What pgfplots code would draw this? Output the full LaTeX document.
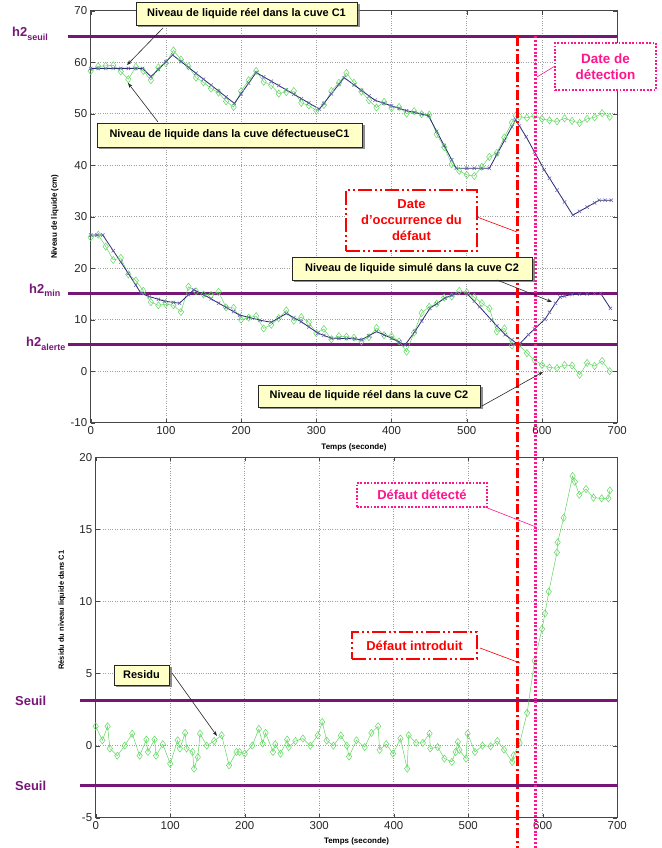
\documentclass[border=0pt]{standalone}
\usepackage{pgfplots}
\pgfplotsset{compat=1.18}
\usepackage{fontspec}
\setmainfont{Liberation Sans}
\usetikzlibrary{shadows,arrows.meta}
\definecolor{thr}{RGB}{118,22,118}
\definecolor{gr}{RGB}{95,215,95}
\definecolor{bl}{RGB}{40,40,110}
\definecolor{blm}{RGB}{95,95,175}
\definecolor{redd}{RGB}{255,0,0}
\definecolor{pinkk}{RGB}{255,20,140}
\definecolor{boxy}{RGB}{255,255,200}
\pgfplotsset{myax/.style={scale only axis, xmin=0, xmax=700, xtick={0,100,...,700},
  grid=major, major grid style={dotted, gray!75, line width=0.6bp},
  axis line style={gray!55!black, line width=0.6bp}, tick align=inside,
  tick style={gray!55!black}, major tick length=4bp,
  tick label style={font=\fontsize{11.5}{12}\selectfont, text=black!85},
  /pgf/number format/assume math mode=true,
  xlabel style={font=\bfseries\fontsize{8}{9}\selectfont},
  ylabel style={font=\bfseries\fontsize{8}{9}\selectfont},
  clip=false},
  grs/.style={gr, line width=0.5bp, mark=diamond, mark size=3.6bp, mark options={solid, fill=none, gr}},
  bls/.style={bl, line width=0.8bp, mark=x, mark size=2.4bp, mark options={blm, line width=0.5bp}},
  thl/.style={thr, line width=3bp}}
\newcommand\hlab[1]{{\fontsize{13}{13}\selectfont\bfseries h2\raisebox{-3.5bp}{\fontsize{9}{9}\selectfont #1}}}
\begin{document}
\begin{tikzpicture}
\path[use as bounding box] (0bp,0bp) rectangle (662bp,848bp);
% ---------------- top axis
\begin{axis}[myax, at={(90.7bp,425.3bp)}, anchor=south west, width=526.5bp, height=412bp,
  ymin=-10, ymax=70, ytick={-10,0,...,70},
  xlabel={Temps (seconde)}, xlabel style={at={(axis description cs:0.5,-0.059)}, anchor=center},
  ylabel={Niveau de liquide (cm)}, ylabel style={at={(axis description cs:-0.068,0.5)}, anchor=center}]
\addplot[thl, forget plot] coordinates {(-30,65) (700,65)};
\addplot[thl, forget plot] coordinates {(-30,15.1) (700,15.1)};
\addplot[thl, forget plot] coordinates {(-30,5.2) (700,5.2)};
% C1 defective (green)
\addplot[grs] coordinates {(0,58.3)(10,59.2)(20,59.3)(30,59.4)(40,58.2)(50,56.7)(60,59.1)(70,58.3)(80,56.5)(90,59.0)(100,59.8)(110,62.3)(120,60.5)(130,59.2)(140,57.0)(150,56.1)(160,54.9)(170,54.1)(180,52.4)(190,51.3)(200,54.4)(210,56.5)(220,58.3)(230,56.2)(240,55.5)(250,53.9)(260,54.2)(270,54.4)(280,52.1)(290,51.6)(300,50.6)(310,51.7)(320,54.4)(330,56.0)(340,57.9)(350,56.0)(360,54.3)(370,52.6)(380,51.2)(390,52.3)(400,51.1)(410,51.3)(420,50.0)(430,50.5)(440,49.9)(450,49.8)(460,46.0)(470,43.5)(480,40.2)(490,38.9)(500,38.1)(510,37.9)(520,39.7)(530,41.6)(540,42.4)(550,45.4)(560,48.3)(565,49.6)(570,49.4)(580,49.2)(590,49.6)(600,49.0)(610,48.7)(620,48.5)(630,49.1)(640,48.6)(650,48.2)(660,49.0)(670,49.3)(680,50.1)(690,49.4)};
% C2 real (green)
\addplot[grs] coordinates {(0,26.0)(10,26.5)(20,24.2)(30,21.6)(40,22.0)(50,18.8)(60,17.6)(70,15.6)(80,13.4)(90,12.8)(100,13.0)(110,12.8)(120,11.5)(130,16.4)(140,15.5)(150,14.9)(160,14.8)(170,15.4)(180,12.4)(190,12.3)(200,10.0)(210,10.4)(220,10.7)(230,8.3)(240,9.0)(250,10.3)(260,11.8)(270,9.8)(280,10.5)(290,9.5)(300,7.4)(310,8.2)(320,6.2)(330,6.8)(340,6.7)(350,6.5)(360,5.8)(370,6.6)(380,8.4)(390,7.0)(400,6.8)(410,5.8)(420,3.8)(430,7.5)(440,11.3)(450,12.5)(460,13.1)(470,14.3)(480,14.5)(490,15.6)(500,15.3)(510,14.4)(520,13.2)(530,12.2)(540,7.7)(550,8.3)(560,5.0)(569,5.1)(580,3.5)(590,2.2)(600,1.2)(610,0.7)(620,0.6)(630,1.2)(640,1.1)(650,-0.7)(660,1.6)(670,1.0)(680,2.0)(690,0.0)};
% C1 real (blue)
\addplot[bls] coordinates {(0,58.8)(10,58.8)(20,58.8)(30,58.8)(40,58.8)(50,58.8)(60,58.8)(69,58.8)(80,57.2)(90,58.6)(100,60.1)(109,61.4)(120,60.14)(130,58.99)(140,57.85)(150,56.7)(160,55.55)(170,54.41)(180,53.26)(191,52.0)(200,53.86)(210,55.93)(220,58.0)(230,57.15)(240,56.31)(250,55.46)(260,54.62)(270,53.77)(280,52.93)(290,52.08)(304,50.9)(310,52.01)(320,53.86)(330,55.71)(337,57.0)(350,55.6)(360,54.53)(370,53.46)(378,52.6)(390,52.02)(400,51.53)(410,51.04)(420,50.6)(430,50.25)(440,49.91)(449,49.6)(460,46.57)(470,43.81)(480,41.05)(486,39.4)(500,39.4)(510,39.4)(520,39.4)(530,39.4)(540,42.09)(550,44.77)(560,47.46)(565,48.8)(570,47.62)(579,45.5)(590,42.57)(603,39.1)(610,37.48)(620,35.16)(630,32.85)(641,30.3)(650,31.05)(660,31.87)(670,32.7)(676,33.2)(684,33.2)(692,33.2)};
% C2 simulated (blue)
\addplot[bls] coordinates {(0,26.45)(8,26.45)(16,26.45)(30,23.38)(40,21.19)(50,19.0)(60,16.7)(67,15.1)(78,14.5)(90,13.96)(98,13.6)(110,13.36)(118,13.2)(130,14.84)(137,15.8)(151,14.8)(160,14.05)(170,13.22)(180,12.39)(190,11.56)(198,10.9)(210,10.46)(225,9.9)(240,9.5)(250,10.35)(260,11.2)(270,10.4)(280,9.6)(290,8.6)(302,7.4)(310,6.96)(320,6.4)(330,6.37)(340,6.34)(351,6.3)(360,6.1)(370,6.9)(380,7.7)(390,7.05)(400,6.4)(410,5.68)(418,5.1)(431,7.7)(440,9.73)(451,12.2)(460,13.1)(471,14.2)(480,14.74)(486,15.1)(500,15.1)(510,13.57)(517,12.5)(533,9.9)(540,8.81)(551,7.1)(560,6.1)(569,5.1)(582,7.1)(590,8.19)(604,10.1)(610,11.43)(618,13.2)(624,14.4)(630,14.59)(640,14.9)(650,14.95)(660,15.0)(670,15.06)(678,15.1)(691,12.2)};
\coordinate (Rt) at (axis cs:567.5,65);
\coordinate (Pt) at (axis cs:591,65);
\end{axis}
% ---------------- bottom axis
\begin{axis}[myax, at={(95.7bp,30.3bp)}, anchor=south west, width=521.6bp, height=360.4bp,
  ymin=-5, ymax=20, ytick={-5,0,...,20},
  xlabel={Temps (seconde)}, xlabel style={at={(axis description cs:0.5,-0.0647)}, anchor=center},
  ylabel={Résidu du niveau liquide dans C1}, ylabel style={font=\bfseries\fontsize{7.5}{9}\selectfont, at={(axis description cs:-0.0646,0.576)}, anchor=center}]
\addplot[thl, forget plot] coordinates {(-21,3.1) (700,3.1)};
\addplot[thl, forget plot] coordinates {(-21,-2.8) (700,-2.8)};
\addplot[grs] coordinates {(0,1.34)(9,0.37)(16,1.34)(19,-0.2)(29,-0.7)(39,0.0)(49,0.83)(59,-0.7)(68,0.42)(70,-0.44)(79,0.42)(81,-0.7)(90,0.1)(100,-1.25)(110,0.37)(113,-0.2)(120,0.88)(122,-0.2)(130,-0.44)(132,-1.6)(137,-0.8)(140,0.83)(149,0.0)(159,0.32)(169,0.72)(179,-1.37)(189,-0.44)(193,-0.44)(200,-0.56)(210,0.0)(219,1.16)(224,0.14)(228,0.88)(238,-0.44)(241,0.1)(248,-0.56)(257,0.42)(259,-0.1)(268,0.32)(278,0.49)(288,0.0)(298,0.72)(304,1.64)(310,0.35)(319,0.0)(329,0.7)(337,0.0)(340,-0.76)(350,0.37)(361,-0.1)(370,0.88)(379,1.34)(381,-0.3)(390,0.1)(399,-0.56)(409,0.49)(418,-1.6)(420,0.72)(430,0.19)(439,0.19)(448,0.83)(449,-0.2)(459,-0.1)(468,-0.9)(478,-1.13)(483,-0.44)(486,0.25)(488,-0.3)(497,-0.9)(499,0.83)(509,-0.44)(519,0.0)(530,-0.05)(539,0.32)(548,-0.28)(559,-1.13)(561,-0.67)(569,0.19)(579,2.27)(589,5.88)(599,8.1)(603,9.17)(608,10.67)(619,13.4)(620,14.1)(628,15.8)(640,18.7)(643,18.3)(649,17.4)(658,17.8)(668,17.2)(679,17.15)(688,17.15)(690,17.7)};
\end{axis}
% ---------------- vertical event lines
\draw[redd, line width=3bp, dash pattern=on 10bp off 3bp on 2bp off 3bp] (Rt) -- (Rt |- 0,0);
\draw[pinkk, line width=3bp, dash pattern=on 2bp off 1.8bp] (Pt) -- (Pt |- 0,0);
% ---------------- annotations
\begin{scope}[x=1bp, y=1bp,
  yb/.style={draw=black!85, line width=0.7bp, fill=boxy, drop shadow={shadow xshift=2.5bp, shadow yshift=-2.5bp, fill=black!55, opacity=0.8}, inner sep=0pt, align=center, font=\bfseries\fontsize{11}{13}\selectfont},
  arr/.style={-{Stealth[length=5bp,width=3.5bp]}, line width=0.6bp, black!85}]
\node[yb, minimum width=221bp, minimum height=23bp] at (246.5,834.5) {Niveau de liquide réel dans la cuve C1};
\node[yb, minimum width=265bp, minimum height=24bp] at (229.5,713) {Niveau de liquide dans la cuve défectueuseC1};
\node[yb, minimum width=240bp, minimum height=23bp] at (412,579.5) {Niveau de liquide simulé dans la cuve C2};
\node[yb, minimum width=222bp, minimum height=22bp] at (369,452) {Niveau de liquide réel dans la cuve C2};
\node[yb, minimum width=55bp, minimum height=20bp] at (141.5,173) {Residu};
\draw[arr] (163,820) -- (127,783);
\draw[arr] (158,726) -- (128,765);
\draw[arr] (497,568) -- (552,546);
\draw[arr] (482,442) -- (543,476);
\draw[arr] (172,175) -- (217,112);
% red / pink event boxes
\node[draw=pinkk, line width=2.5bp, dash pattern=on 1.8bp off 1.6bp, fill=white, minimum width=101bp, minimum height=47bp, inner sep=0pt, align=center, text=pinkk, font=\bfseries\fontsize{13.5}{16}\selectfont] at (605.5,781.5) {Date de\\détection};
\draw[pinkk, line width=0.6bp] (555,782) -- (537,771);
\node[draw=redd, line width=2.5bp, dash pattern=on 14bp off 3bp on 2bp off 3bp on 2bp off 3bp, fill=white, minimum width=131bp, minimum height=61bp, inner sep=0pt, align=center, text=redd, font=\bfseries\fontsize{13}{16}\selectfont] at (411.5,627.5) {Date\\d’occurrence du\\défaut};
\draw[redd, line width=0.6bp] (477,631) -- (517,616);
\node[draw=pinkk, line width=2.5bp, dash pattern=on 1.8bp off 1.6bp, fill=white, minimum width=130bp, minimum height=24bp, inner sep=0pt, text=pinkk, font=\bfseries\fontsize{13}{15}\selectfont] at (422,353) {Défaut détecté};
\draw[pinkk, line width=0.6bp] (485,341) -- (536,321);
\node[draw=redd, line width=2.5bp, dash pattern=on 14bp off 3bp on 2bp off 3bp on 2bp off 3bp, fill=white, minimum width=125bp, minimum height=27bp, inner sep=0pt, text=redd, font=\bfseries\fontsize{13}{15}\selectfont] at (414.5,202.5) {Défaut introduit};
\draw[redd, line width=0.6bp] (480,200) -- (520,185);
% threshold labels
\node[anchor=base west, inner sep=0pt, text=thr] at (12,811) {\hlab{seuil}};
\node[anchor=base west, inner sep=0pt, text=thr] at (29,554.7) {\hlab{min}};
\node[anchor=base west, inner sep=0pt, text=thr] at (26,501.3) {\hlab{alerte}};
\node[anchor=base west, inner sep=0pt, text=thr, font=\bfseries\fontsize{13}{13}\selectfont] at (15,143) {Seuil};
\node[anchor=base west, inner sep=0pt, text=thr, font=\bfseries\fontsize{13}{13}\selectfont] at (15,58) {Seuil};
\end{scope}
\end{tikzpicture}
\end{document}
